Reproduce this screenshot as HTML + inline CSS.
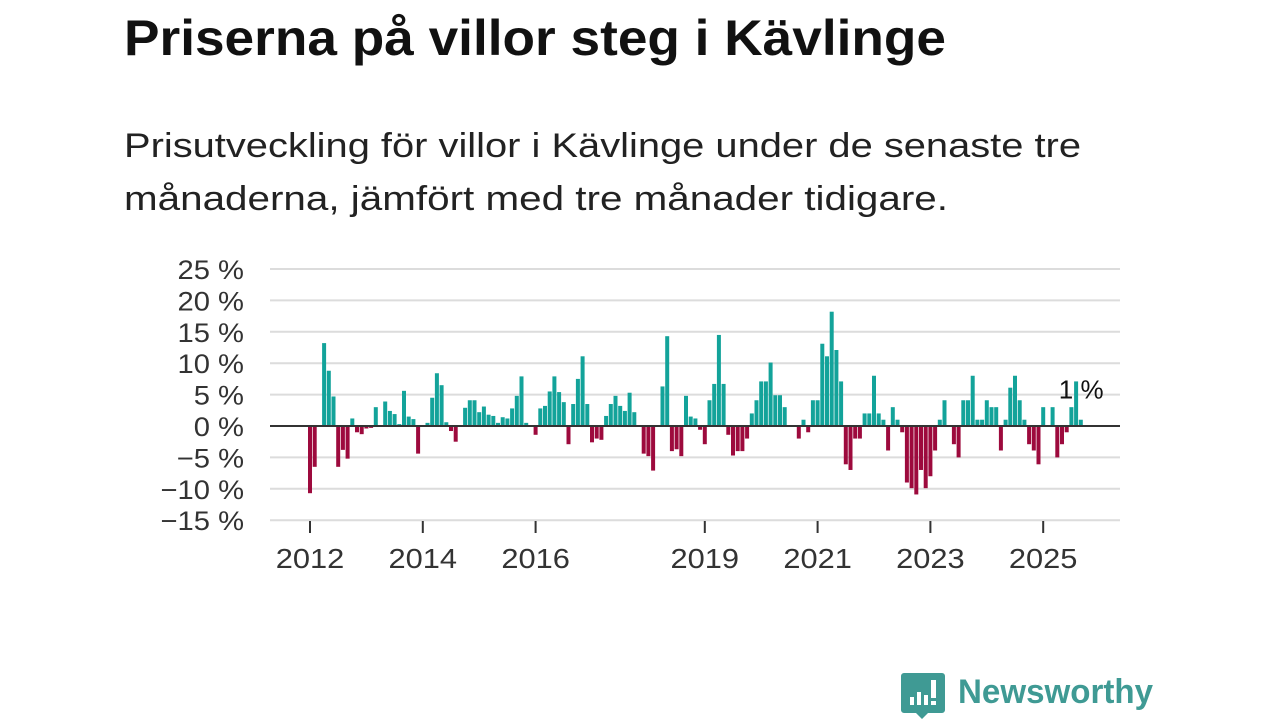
<!DOCTYPE html>
<html><head><meta charset="utf-8"><style>
html,body{margin:0;padding:0;background:#fff;width:1280px;height:720px;overflow:hidden}
svg{display:block;font-family:"Liberation Sans","Noto Sans CJK SC",sans-serif}
</style></head><body>
<svg id="chart" width="1280" height="720" viewBox="0 0 1280 720">
<text x="124" y="55" font-size="50" font-weight="bold" fill="#111" textLength="822" lengthAdjust="spacingAndGlyphs">Priserna på villor steg i Kävlinge</text>
<text x="124" y="157" font-size="34" fill="#222" textLength="957" lengthAdjust="spacingAndGlyphs">Prisutveckling för villor i Kävlinge under de senaste tre</text>
<text x="124" y="210" font-size="34" fill="#222" textLength="824" lengthAdjust="spacingAndGlyphs">månaderna, jämfört med tre månader tidigare.</text>
<g id="grid"></g><g id="bars"></g><g id="axes"></g>
<g>
<path d="M904 673 h38 a3 3 0 0 1 3 3 v34 a3 3 0 0 1 -3 3 h-14 l-6 6 l-6 -6 h-12 a3 3 0 0 1 -3 -3 v-34 a3 3 0 0 1 3 -3z" fill="#3f9a94"/>
<rect x="910" y="697" width="4" height="8" fill="#fff"/><rect x="917" y="692" width="4" height="13" fill="#fff"/><rect x="924" y="695" width="4" height="10" fill="#fff"/><rect x="931" y="680" width="5" height="18" fill="#fff"/><rect x="931" y="701" width="5" height="4" fill="#fff"/>
<text x="958" y="703" font-size="34" font-weight="bold" fill="#3f9a94" textLength="195" lengthAdjust="spacingAndGlyphs">Newsworthy</text>
</g>
</svg>
<script>
const months=[-10.7,-6.5,0,13.2,8.8,4.7,-6.5,-3.8,-5.2,1.2,-1,-1.3,
-0.4,-0.3,3.0,0,3.9,2.4,1.9,0.3,5.6,1.5,1.1,-4.4,
0,0.5,4.5,8.4,6.5,0.6,-0.8,-2.5,0,2.9,4.1,4.1,
2.2,3.1,1.8,1.6,0.5,1.4,1.2,2.8,4.8,7.9,0.5,0,
-1.4,2.8,3.2,5.5,7.9,5.4,3.8,-2.9,3.5,7.5,11.1,3.5,
-2.6,-2.0,-2.2,1.6,3.5,4.8,3.2,2.4,5.3,2.2,0,-4.4,
-4.8,-7.1,0,6.3,14.3,-4.0,-3.7,-4.8,4.8,1.5,1.2,-0.6,
-2.9,4.1,6.7,14.5,6.7,-1.4,-4.7,-4.0,-4.0,-2.0,2.0,4.1,
7.1,7.1,10.1,4.9,4.9,3.0,0,0,-2.0,1.0,-1.0,4.1,
4.1,13.1,11.1,18.2,12.1,7.1,-6.1,-7.0,-2.0,-2.0,2.0,2.0,
8.0,2.0,1.0,-3.9,3.0,1.0,-1.0,-9.0,-9.9,-10.9,-7.0,-9.9,
-8.0,-3.9,1.0,4.1,0,-2.9,-5.0,4.1,4.1,8.0,1.0,1.0,
4.1,3.0,3.0,-3.9,1.0,6.1,8.0,4.1,1.0,-2.9,-3.9,-6.1,
3.0,0,3.0,-5.0,-2.9,-1.0,3.0,7.1,1.0];
const yTicks=[25,20,15,10,5,0,-5,-10,-15];
const yTickLabels=["25 %","20 %","15 %","10 %","5 %","0 %","−5 %","−10 %","−15 %"];
const xTickYears=[2012,2014,2016,2019,2021,2023,2025];
const lastLabel="1 %";
const NS="http://www.w3.org/2000/svg";
const startYear=2012;
const y=v=>426-v*(157/25);
const x=i=>310+i*4.7;
function mk(tag,attrs,parent){const e=document.createElementNS(NS,tag);for(const k in attrs)e.setAttribute(k,attrs[k]);parent.appendChild(e);return e;}
function widen(t,f){const w=t.getComputedTextLength();t.setAttribute('textLength',w*f);t.setAttribute('lengthAdjust','spacingAndGlyphs');}
const grid=document.getElementById('grid'),bars=document.getElementById('bars'),axes=document.getElementById('axes');
yTicks.forEach((t,k)=>{
  if(t!==0){const l=mk('line',{x1:270,x2:1120,y1:y(t),y2:y(t),stroke:'#dcdcdc','stroke-width':2},grid);
  
  }
  const tx=mk('text',{x:244,y:y(t)+10,'font-size':27,fill:'#333','text-anchor':'end'},axes);
  tx.textContent=yTickLabels[k];
  
  
  widen(tx,1.08);
});
months.forEach((v,i)=>{
  if(v===0)return;
  const r=mk('rect',{x:x(i)-2,y:Math.min(y(v),y(0)),width:4,height:Math.abs(y(v)-y(0)),fill:v>0?'#13a39a':'#9d0a3d'},bars);
  
  
});
const z=mk('line',{x1:270,x2:1120,y1:y(0),y2:y(0),stroke:'#333','stroke-width':2},axes);


xTickYears.forEach(yr=>{
  const px=x((yr-startYear)*12);
  const tk=mk('line',{x1:px,x2:px,y1:521,y2:533,stroke:'#333','stroke-width':2},axes);
  
  
  const t=mk('text',{x:px,y:568,'font-size':28,fill:'#333','text-anchor':'middle'},axes);
  t.textContent=yr;
  
  
  widen(t,1.1);
});
const li=months.length-1;
const ll=mk('text',{x:x(li)-22,y:y(months[li])-21,'font-size':26,fill:'#111'},axes);
ll.textContent=lastLabel;


</script>
</body></html>
